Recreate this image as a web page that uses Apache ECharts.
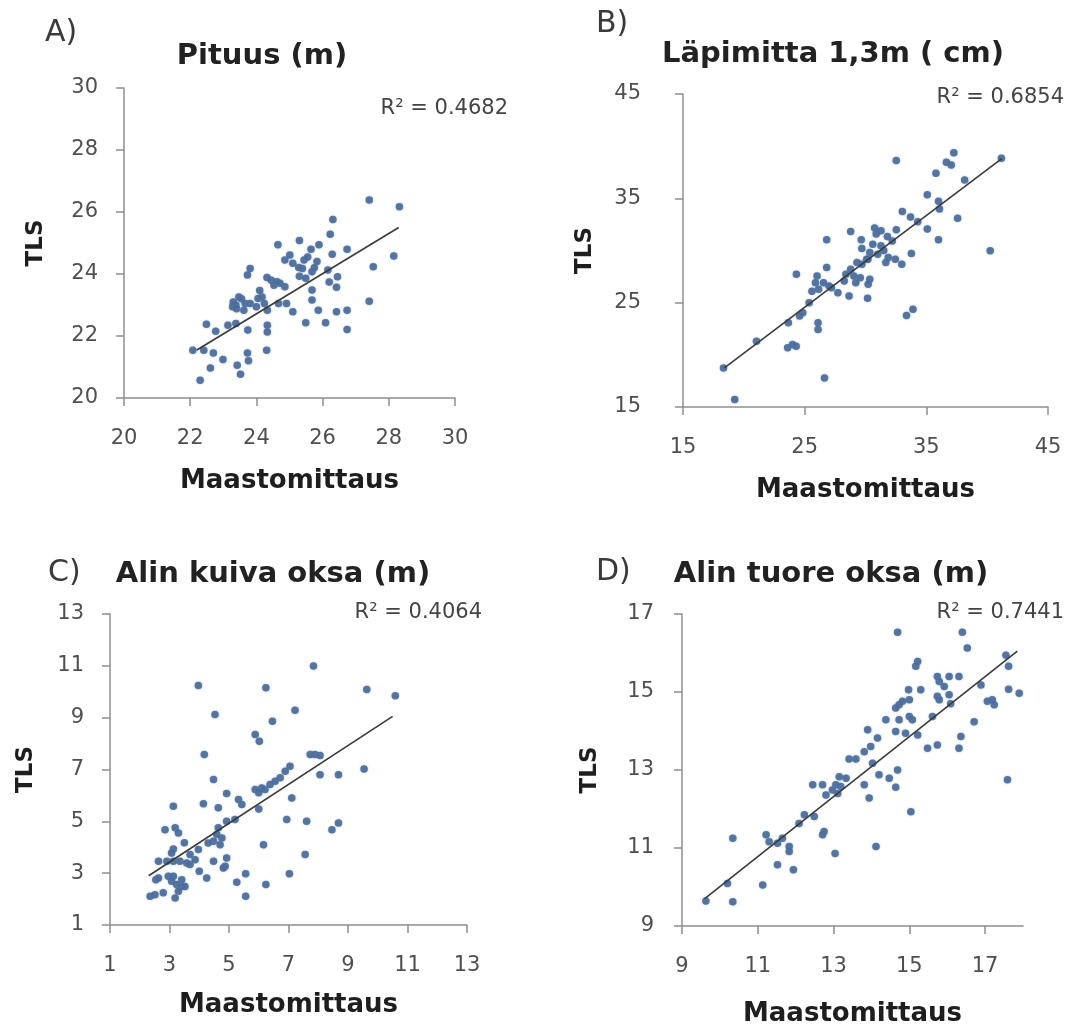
<!DOCTYPE html>
<html><head><meta charset="utf-8">
<script src="https://cdn.jsdelivr.net/npm/echarts@6/dist/echarts.min.js"></script>
<style>html,body{margin:0;padding:0;background:#fff}#c{width:1092px;height:1036px}</style>
</head><body><div id="c"></div>
<script>
// ---- text ----
const panelLetters = ['A)', 'B)', 'C)', 'D)'];
const panelTitles = ['Pituus (m)', 'Läpimitta 1,3m ( cm)', 'Alin kuiva oksa (m)', 'Alin tuore oksa (m)'];
const r2Labels = ['R² = 0.4682', 'R² = 0.6854', 'R² = 0.4064', 'R² = 0.7441'];
const xAxisName = 'Maastomittaus';
const yAxisName = 'TLS';

// ---- axis ranges & tick labels ----
const rangeA = [20, 30], ticksA = [20, 22, 24, 26, 28, 30];
const rangeB = [15, 45], ticksB = [15, 25, 35, 45];
const rangeC = [1, 13], ticksC = [1, 3, 5, 7, 9, 11, 13];
const rangeDx = [9, 18], rangeDy = [9, 17], ticksD = [9, 11, 13, 15, 17];

// ---- trend lines (end points) ----
const trendA = [[22.2, 21.55], [28.3, 25.5]];
const trendB = [[18.4, 18.75], [41.2, 38.8]];
const trendC = [[2.3, 2.9], [10.5, 9.05]];
const trendD = [[9.6, 9.7], [17.85, 16.05]];

// ---- scatter points [Maastomittaus, TLS] ----
const pointsA = [[27.41,26.39],[28.32,26.17],[26.31,25.76],[26.23,25.28],[25.30,25.08],[24.65,24.94],[25.89,24.94],[25.65,24.80],[26.74,24.80],[25.01,24.61],[24.86,24.45],[26.29,24.64],[28.15,24.58],[25.44,24.45],[23.81,24.18],[23.73,23.97],[27.53,24.23],[25.28,24.21],[25.30,23.93],[24.32,23.89],[25.68,24.07],[26.16,24.13],[26.45,23.91],[26.42,23.57],[24.71,23.70],[24.53,23.64],[24.86,23.59],[25.68,23.48],[24.17,23.26],[23.47,23.26],[23.38,23.00],[23.62,22.83],[23.81,23.05],[24.00,22.94],[24.24,23.05],[24.33,22.83],[24.67,23.05],[24.91,23.05],[25.10,22.78],[25.87,22.83],[25.68,23.16],[27.41,23.12],[26.42,22.78],[26.74,22.83],[25.49,22.43],[26.09,22.43],[26.74,22.21],[22.49,22.38],[22.77,22.15],[23.14,22.35],[23.38,22.40],[23.74,22.19],[24.33,22.35],[24.33,22.13],[22.08,21.54],[22.41,21.54],[22.70,21.45],[22.99,21.24],[23.73,21.45],[23.76,21.20],[24.31,21.54],[22.61,20.97],[23.42,21.06],[23.52,20.77],[22.30,20.57],[23.66,23.05],[24.05,23.21],[24.62,23.75],[25.39,24.18],[25.83,24.40],[23.28,22.94],[25.49,23.86],[26.20,23.74],[23.40,22.88],[24.10,23.47],[23.30,23.10],[23.55,23.20],[25.55,24.55],[25.75,24.20],[24.45,23.80],[25.10,24.35]];
const pointsB = [[37.26,39.36],[32.53,38.62],[36.65,38.46],[37.05,38.20],[41.17,38.85],[35.79,37.40],[38.15,36.76],[35.08,35.35],[36.00,34.71],[36.08,33.97],[33.03,33.75],[33.70,33.20],[37.57,33.08],[34.29,32.76],[35.08,32.05],[36.00,31.03],[40.25,29.97],[28.78,31.83],[26.81,31.03],[30.75,32.15],[31.27,31.90],[30.88,31.57],[29.65,31.03],[32.53,31.99],[31.80,31.35],[32.20,30.90],[29.70,30.19],[30.35,29.80],[30.20,29.17],[31.27,30.45],[31.00,29.65],[31.50,30.00],[33.77,29.71],[31.87,29.33],[32.45,29.17],[32.98,28.69],[31.67,28.85],[26.81,28.37],[28.78,28.20],[28.39,27.72],[29.30,28.85],[29.70,28.69],[24.32,27.72],[26.02,27.56],[25.89,26.92],[26.55,26.92],[26.15,26.28],[27.20,26.44],[27.73,25.96],[29.57,27.40],[30.35,27.24],[30.22,26.76],[28.65,25.64],[30.17,25.42],[25.37,25.00],[24.84,24.04],[24.58,23.72],[23.66,23.08],[26.10,23.08],[26.10,22.44],[33.37,23.78],[33.90,24.36],[21.04,21.31],[23.60,20.67],[24.00,20.99],[24.30,20.83],[26.63,17.79],[19.25,15.71],[18.33,18.75],[28.25,27.08],[29.04,27.56],[30.10,29.17],[27.00,26.60],[25.60,26.10],[29.20,26.90],[30.60,30.60]];
const pointsC = [[7.84,10.99],[3.97,10.24],[6.24,10.15],[9.63,10.09],[10.59,9.85],[7.22,9.29],[4.53,9.12],[6.46,8.86],[5.88,8.35],[6.02,8.09],[4.17,7.58],[7.73,7.58],[7.89,7.58],[8.06,7.54],[4.48,6.61],[9.54,7.02],[8.06,6.80],[8.68,6.80],[7.05,7.13],[6.89,6.93],[6.72,6.68],[6.55,6.55],[6.38,6.42],[6.21,6.23],[6.10,6.29],[5.88,6.23],[6.00,6.10],[4.92,6.07],[7.11,5.90],[3.13,5.58],[4.14,5.68],[4.64,5.52],[5.32,5.84],[5.43,5.65],[6.00,5.48],[4.92,5.00],[5.20,5.07],[6.94,5.07],[7.61,5.00],[8.68,4.94],[8.46,4.68],[2.85,4.68],[3.19,4.75],[3.30,4.55],[4.64,4.75],[4.59,4.49],[4.76,4.36],[4.48,4.23],[4.70,4.10],[4.30,4.16],[3.50,4.17],[3.13,3.93],[3.07,3.78],[3.97,3.91],[3.69,3.72],[3.86,3.52],[2.63,3.46],[2.91,3.46],[3.13,3.46],[3.35,3.46],[3.58,3.39],[3.69,3.33],[4.92,3.59],[4.87,3.27],[4.81,3.20],[4.48,3.46],[6.16,4.10],[7.56,3.72],[4.00,3.07],[4.25,2.81],[5.26,2.65],[5.56,2.98],[7.03,2.98],[6.24,2.56],[5.56,2.11],[2.35,2.11],[2.51,2.17],[2.79,2.24],[2.54,2.75],[2.63,2.81],[2.96,2.88],[3.13,2.88],[3.07,2.69],[3.24,2.56],[3.41,2.49],[3.30,2.30],[3.19,2.04],[3.41,2.75],[3.52,2.49]];
const pointsD = [[14.69,16.53],[16.40,16.53],[16.53,16.13],[15.22,15.78],[15.17,15.66],[17.55,15.94],[17.62,15.66],[15.74,15.40],[16.05,15.40],[16.31,15.40],[14.98,15.06],[15.30,15.06],[15.79,15.27],[15.92,15.14],[16.89,15.18],[17.62,15.07],[17.90,14.97],[15.74,14.89],[16.05,14.93],[15.00,14.80],[14.82,14.76],[14.64,14.59],[14.73,14.67],[15.79,14.80],[16.09,14.70],[17.06,14.76],[17.19,14.80],[17.24,14.67],[15.00,14.37],[15.08,14.29],[14.38,14.29],[14.73,14.29],[15.61,14.37],[16.71,14.24],[13.90,14.03],[14.64,13.99],[14.90,13.94],[15.22,13.90],[16.36,13.86],[15.48,13.56],[15.74,13.64],[16.31,13.56],[14.16,13.82],[13.98,13.60],[13.81,13.47],[13.41,13.28],[13.59,13.28],[14.03,13.17],[14.69,13.00],[14.20,12.88],[14.47,12.79],[14.64,12.56],[17.59,12.75],[13.81,12.62],[13.94,12.28],[13.15,12.83],[13.33,12.79],[13.06,12.62],[13.19,12.58],[12.45,12.62],[12.71,12.62],[12.80,12.36],[12.97,12.49],[13.11,12.40],[15.04,11.93],[12.23,11.85],[12.49,11.81],[12.09,11.63],[11.22,11.34],[11.30,11.16],[11.65,11.25],[11.52,11.12],[11.83,11.04],[11.83,10.91],[12.75,11.42],[12.71,11.34],[10.34,11.25],[14.12,11.04],[13.04,10.86],[11.52,10.57],[11.94,10.44],[10.20,10.09],[11.13,10.05],[9.63,9.64],[10.34,9.62]];

// ---- layout / style ----
const FONT = 'DejaVu Sans';
const panels = [
  { grid: {left:124, top:88, width:331, height:310}, xr: rangeA, yr: rangeA, xt: ticksA, yt: ticksA, pts: pointsA, tr: trendA,
    xGap: 70, yGap: 76, yMargin: 26,
    letter: [45, 35], title: [262, 56], r2: [508, 109] },
  { grid: {left:683, top:94, width:365, height:313}, xr: rangeB, yr: rangeB, xt: ticksB, yt: ticksB, pts: pointsB, tr: trendB,
    xGap: 70, yGap: 86, yMargin: 42,
    letter: [596, 26], title: [833, 54], r2: [1064, 98] },
  { grid: {left:110, top:614, width:357, height:311}, xr: rangeC, yr: rangeC, xt: ticksC, yt: ticksC, pts: pointsC, tr: trendC,
    xGap: 67, yGap: 72, yMargin: 26,
    letter: [48, 575], title: [273, 574], r2: [482, 613] },
  { grid: {left:682, top:614, width:341, height:312}, xr: rangeDx, yr: rangeDy, xt: ticksD, yt: ticksD, pts: pointsD, tr: trendD,
    xGap: 75, yGap: 80, yMargin: 28,
    letter: [596, 574], title: [831, 574], r2: [1064, 613] }
];

const axisCommon = {
  type: 'value',
  splitLine: { show: false },
  axisLine: { show: true, onZero: false, lineStyle: { color: '#8f8f8f', width: 1.5 } },
  axisTick: { show: true, inside: false, length: 8, lineStyle: { color: '#8f8f8f', width: 1.5 } },
  axisLabel: { color: '#4f4f4f', fontSize: 21, fontFamily: FONT, margin: 28 },
  nameLocation: 'middle',
  nameTextStyle: { color: '#1e1e1e', fontSize: 26, fontWeight: 'bold', fontFamily: FONT }
};

const grids = [], xAxes = [], yAxes = [], series = [], graphics = [];
panels.forEach((p, i) => {
  grids.push(p.grid);
  xAxes.push(Object.assign({}, axisCommon, {
    gridIndex: i, min: p.xr[0], max: p.xr[1], name: xAxisName, nameGap: p.xGap,
    axisTick: Object.assign({}, axisCommon.axisTick, { customValues: p.xt }),
    axisLabel: Object.assign({}, axisCommon.axisLabel, { customValues: p.xt, margin: 30 })
  }));
  yAxes.push(Object.assign({}, axisCommon, {
    gridIndex: i, min: p.yr[0], max: p.yr[1], name: yAxisName, nameGap: p.yGap,
    nameTextStyle: Object.assign({}, axisCommon.nameTextStyle, { fontSize: 23 }),
    axisTick: Object.assign({}, axisCommon.axisTick, { customValues: p.yt }),
    axisLabel: Object.assign({}, axisCommon.axisLabel, { customValues: p.yt, margin: p.yMargin })
  }));
  series.push({
    type: 'scatter', xAxisIndex: i, yAxisIndex: i, data: p.pts, symbol: 'circle', symbolSize: 7.5,
    itemStyle: { color: '#4b6a97', opacity: 0.9, shadowBlur: 2, shadowColor: 'rgba(90,140,210,0.6)' }, silent: true
  });
  series.push({
    type: 'line', xAxisIndex: i, yAxisIndex: i, data: p.tr, symbol: 'none', silent: true,
    lineStyle: { color: '#3a3a3a', width: 1.6 }
  });
  graphics.push({ type: 'text', left: p.letter[0], top: p.letter[1] - 17,
    style: { text: panelLetters[i], fontSize: 30, fontFamily: FONT, fill: '#3a3a3a' } });
  graphics.push({ type: 'text', x: p.title[0], y: p.title[1],
    style: { text: panelTitles[i], fontSize: 29, fontWeight: 'bold', fontFamily: FONT, fill: '#222', align: 'center', verticalAlign: 'middle' } });
  graphics.push({ type: 'text', x: p.r2[0], y: p.r2[1],
    style: { text: r2Labels[i], fontSize: 21, fontFamily: FONT, fill: '#444', align: 'right', verticalAlign: 'middle' } });
});

const chart = echarts.init(document.getElementById('c'), null, { renderer: 'canvas' });
chart.setOption({
  animation: false,
  backgroundColor: '#ffffff',
  grid: grids, xAxis: xAxes, yAxis: yAxes, series: series, graphic: graphics
});
</script></body></html>
